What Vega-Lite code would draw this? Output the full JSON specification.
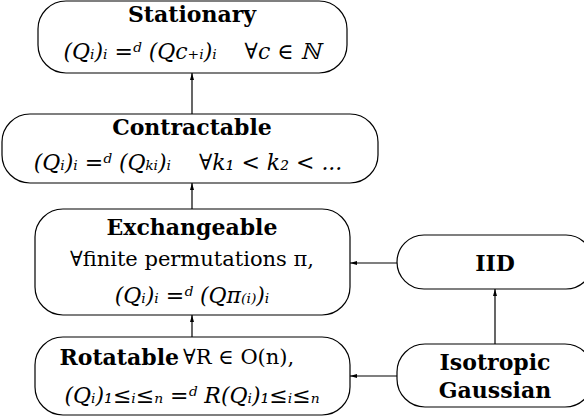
{
  "$schema": "https://vega.github.io/schema/vega-lite/v6.json",
  "width": 584,
  "height": 419,
  "padding": 0,
  "autosize": "none",
  "background": "white",
  "config": {"view": {"stroke": null}},
  "datasets": {
    "boxes": [
      {"name": "Stationary", "x1": 38, "x2": 347, "y1": 1, "y2": 73},
      {"name": "Contractable", "x1": 2, "x2": 378, "y1": 114, "y2": 183},
      {"name": "Exchangeable", "x1": 35, "x2": 350, "y1": 209, "y2": 315},
      {"name": "Rotatable", "x1": 35, "x2": 350, "y1": 337, "y2": 415},
      {"name": "IID", "x1": 397, "x2": 593, "y1": 235, "y2": 289},
      {"name": "Isotropic Gaussian", "x1": 397, "x2": 593, "y1": 344, "y2": 407}
    ],
    "edges": [
      {"x1": 192, "y1": 114, "x2": 192, "y2": 73, "dir": "up"},
      {"x1": 192, "y1": 209, "x2": 192, "y2": 183, "dir": "up"},
      {"x1": 192, "y1": 337, "x2": 192, "y2": 315, "dir": "up"},
      {"x1": 397, "y1": 263, "x2": 350, "y2": 263, "dir": "left"},
      {"x1": 397, "y1": 376, "x2": 350, "y2": 376, "dir": "left"},
      {"x1": 495, "y1": 344, "x2": 495, "y2": 289, "dir": "up"}
    ],
    "titles": [
      {"x": 192, "y": 15, "t": "Stationary"},
      {"x": 192, "y": 128, "t": "Contractable"},
      {"x": 192, "y": 228, "t": "Exchangeable"},
      {"x": 495, "y": 264, "t": "IID"},
      {"x": 495, "y": 363, "t": "Isotropic"},
      {"x": 495, "y": 391, "t": "Gaussian"}
    ],
    "titlesRight": [
      {"x": 179, "y": 358, "t": "Rotatable"}
    ],
    "bodyLeft": [
      {"x": 183, "y": 358, "t": "∀R ∈ O(n),"}
    ],
    "body": [
      {"x": 192, "y": 260, "t": "∀finite permutations π,"}
    ],
    "math": [
      {"x": 192, "y": 52, "t": "(Qᵢ)ᵢ\u00a0=ᵈ\u00a0(Qc₊ᵢ)ᵢ\u00a0\u00a0\u00a0\u00a0∀c\u00a0∈\u00a0ℕ"},
      {"x": 188, "y": 163, "t": "(Qᵢ)ᵢ\u00a0=ᵈ\u00a0(Qₖᵢ)ᵢ\u00a0\u00a0\u00a0\u00a0∀k₁\u00a0<\u00a0k₂\u00a0<\u00a0..."},
      {"x": 192, "y": 296, "t": "(Qᵢ)ᵢ\u00a0=ᵈ\u00a0(Qπ₍ᵢ₎)ᵢ"},
      {"x": 192, "y": 396, "t": "(Qᵢ)₁≤ᵢ≤ₙ\u00a0=ᵈ\u00a0R(Qᵢ)₁≤ᵢ≤ₙ"}
    ]
  },
  "layer": [
    {
      "data": {"name": "boxes"},
      "mark": {"type": "rect", "fill": "white", "stroke": "black", "strokeWidth": 1.2, "cornerRadius": 28},
      "encoding": {
        "x": {"field": "x1", "type": "quantitative", "scale": {"domain": [0, 584], "nice": false, "zero": false}, "axis": null},
        "x2": {"field": "x2"},
        "y": {"field": "y1", "type": "quantitative", "scale": {"domain": [0, 419], "nice": false, "zero": false, "reverse": true}, "axis": null},
        "y2": {"field": "y2"}
      }
    },
    {
      "data": {"name": "edges"},
      "mark": {"type": "rule", "stroke": "black", "strokeWidth": 1.2},
      "encoding": {
        "x": {"field": "x1", "type": "quantitative"},
        "x2": {"field": "x2"},
        "y": {"field": "y1", "type": "quantitative"},
        "y2": {"field": "y2"}
      }
    },
    {
      "data": {"name": "edges"},
      "mark": {"type": "point", "filled": true, "fill": "black", "stroke": null, "opacity": 1, "size": 100},
      "encoding": {
        "x": {"field": "x2", "type": "quantitative"},
        "y": {"field": "y2", "type": "quantitative"},
        "shape": {"field": "dir", "type": "nominal", "legend": null,
          "scale": {"domain": ["up", "left"], "range": ["M0,0L-0.4,1.4L0.4,1.4Z", "M0,0L1.4,-0.4L1.4,0.4Z"]}}
      }
    },
    {
      "data": {"name": "titles"},
      "mark": {"type": "text", "font": "DejaVu Serif", "fontWeight": "bold", "fontSize": 22, "align": "center", "baseline": "middle", "color": "black"},
      "encoding": {
        "x": {"field": "x", "type": "quantitative"},
        "y": {"field": "y", "type": "quantitative"},
        "text": {"field": "t"}
      }
    },
    {
      "data": {"name": "titlesRight"},
      "mark": {"type": "text", "font": "DejaVu Serif", "fontWeight": "bold", "fontSize": 22, "align": "right", "baseline": "middle", "color": "black"},
      "encoding": {
        "x": {"field": "x", "type": "quantitative"},
        "y": {"field": "y", "type": "quantitative"},
        "text": {"field": "t"}
      }
    },
    {
      "data": {"name": "bodyLeft"},
      "mark": {"type": "text", "font": "DejaVu Serif", "fontSize": 21, "align": "left", "baseline": "middle", "color": "black"},
      "encoding": {
        "x": {"field": "x", "type": "quantitative"},
        "y": {"field": "y", "type": "quantitative"},
        "text": {"field": "t"}
      }
    },
    {
      "data": {"name": "body"},
      "mark": {"type": "text", "font": "DejaVu Serif", "fontSize": 21, "align": "center", "baseline": "middle", "color": "black"},
      "encoding": {
        "x": {"field": "x", "type": "quantitative"},
        "y": {"field": "y", "type": "quantitative"},
        "text": {"field": "t"}
      }
    },
    {
      "data": {"name": "math"},
      "mark": {"type": "text", "font": "DejaVu Serif", "fontStyle": "italic", "fontSize": 22, "align": "center", "baseline": "middle", "color": "black"},
      "encoding": {
        "x": {"field": "x", "type": "quantitative"},
        "y": {"field": "y", "type": "quantitative"},
        "text": {"field": "t"}
      }
    }
  ]
}
